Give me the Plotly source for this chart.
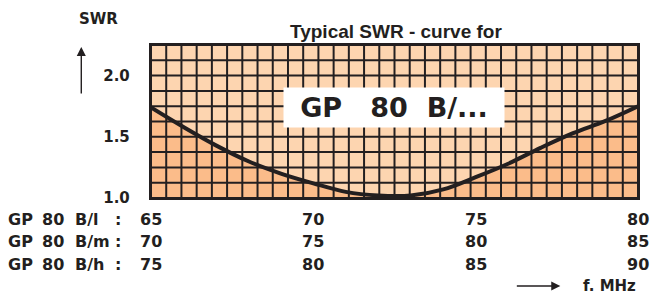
import numpy as np
import plotly.graph_objects as go

# ---- data ----
freq = [65, 66, 67, 68, 69, 70, 71, 72, 73, 74, 75, 76, 77, 78, 79, 80]
swr = [1.74, 1.58, 1.43, 1.30, 1.20, 1.12, 1.05, 1.02, 1.02, 1.07, 1.17, 1.28, 1.41, 1.53, 1.63, 1.75]

model_suffix = ["B/l", "B/m", "B/h"]
freq_l = [65, 70, 75, 80]
freq_m = [70, 75, 80, 85]
freq_h = [75, 80, 85, 90]
ytick_vals = [1.0, 1.5, 2.0]
ytick_text = ["1.0", "1.5", "2.0"]

X_RANGE = [65, 80]
Y_RANGE = [1.0, 2.25]
N_XCELLS = 32
N_YCELLS = 10

INK = "#231F20"
LIGHT = "#FDD5B0"
DARK = "#FBBC8A"
WIDE = "DejaVu Sans"
NARROW = "Liberation Sans"

# ---- pixel -> paper helpers (layout only) ----
L, R, T, B = 151, 640, 45, 198
W, H = R - L, B - T
def px(x):
    return (x - L) / W
def py(y):
    return (B - y) / H

fig = go.Figure()

# fill below curve
fig.add_trace(go.Scatter(x=freq, y=swr, mode="lines", line=dict(width=0, shape="spline", color=DARK),
                         fill="tozeroy", fillcolor=DARK, hoverinfo="skip", showlegend=False))

# grid lines on top of the fill
gx, gy = [], []
for xv in np.linspace(X_RANGE[0], X_RANGE[1], N_XCELLS + 1):
    gx += [xv, xv, None]
    gy += [Y_RANGE[0], Y_RANGE[1], None]
for yv in np.linspace(Y_RANGE[0], Y_RANGE[1], N_YCELLS + 1):
    gx += [X_RANGE[0], X_RANGE[1], None]
    gy += [yv, yv, None]
fig.add_trace(go.Scatter(x=gx, y=gy, mode="lines", line=dict(color=INK, width=2),
                         hoverinfo="skip", showlegend=False, cliponaxis=False))

# curve
fig.add_trace(go.Scatter(x=freq, y=swr, mode="lines", line=dict(color=INK, width=4, shape="spline"),
                         showlegend=False))

ann = []
# title
ann.append(dict(text="Typical SWR - curve for", xref="paper", yref="paper", x=px(397), y=py(31),
                showarrow=False, font=dict(family=NARROW, size=19, color=INK, weight="bold"),
                xanchor="center", yanchor="middle"))
# big label box
nb = "\u00a0"
ann.append(dict(text="GP" + nb * 3 + "80" + nb * 2 + "B/...", xref="paper", yref="paper",
                x=px(395), y=py(107.5), showarrow=False, bgcolor="white", borderpad=0,
                width=220, height=39, align="center", valign="middle",
                font=dict(family=WIDE, size=27, color=INK, weight="bold"),
                xanchor="center", yanchor="middle"))
# SWR label + up arrow
ann.append(dict(text="SWR", xref="paper", yref="paper", x=px(98), y=py(19), showarrow=False,
                font=dict(family=WIDE, size=15, color=INK, weight="bold"), xanchor="center", yanchor="middle"))
ann.append(dict(text="", xref="paper", yref="paper", x=px(81), y=py(47), ax=0, ay=48,
                showarrow=True, arrowhead=2, arrowsize=1.3, arrowwidth=1.4, arrowcolor=INK))
# f. MHz + right arrow
ann.append(dict(text="f. MHz", xref="paper", yref="paper", x=px(583), y=py(286), showarrow=False,
                font=dict(family=WIDE, size=15, color=INK, weight="bold"), xanchor="left", yanchor="middle"))
ann.append(dict(text="", xref="paper", yref="paper", x=px(562), y=py(286), ax=-45, ay=0,
                showarrow=True, arrowhead=2, arrowsize=1.3, arrowwidth=1.4, arrowcolor=INK))

# frequency rows
row_y = [219, 242, 264]
rows = [freq_l, freq_m, freq_h]
lab_font = dict(family=WIDE, size=16, color=INK, weight="bold")
for suffix, vals, yy in zip(model_suffix, rows, row_y):
    for piece, xx in (("GP", 5), ("80", 40), (suffix, 73), (":", 113)):
        ann.append(dict(text=piece, xref="paper", yref="paper", x=px(xx), y=py(yy), showarrow=False,
                        font=lab_font, xanchor="left", yanchor="middle"))
    for fpos, v in zip(freq_l, vals):
        ann.append(dict(text=str(v), xref="x", yref="paper", x=fpos, y=py(yy), showarrow=False,
                        font=lab_font, xanchor="center", yanchor="middle"))

fig.update_layout(
    width=652, height=295,
    margin=dict(l=L, r=652 - R, t=T, b=295 - B),
    paper_bgcolor="white", plot_bgcolor=LIGHT,
    showlegend=False,
    annotations=ann,
    xaxis=dict(range=X_RANGE, showgrid=False, zeroline=False, showticklabels=False, ticks="",
               showline=True, mirror=True, linecolor=INK, linewidth=2.4, fixedrange=True),
    yaxis=dict(range=Y_RANGE, showgrid=False, zeroline=False, tickvals=ytick_vals, ticktext=ytick_text,
               ticks="", ticklabelstandoff=16,
               tickfont=dict(family=WIDE, size=15, color=INK, weight="bold"),
               showline=True, mirror=True, linecolor=INK, linewidth=2.4, fixedrange=True),
)

fig.write_html("out.html", config={"displayModeBar": False},
               post_script="document.body.style.margin='0';document.body.style.overflow='hidden';")
